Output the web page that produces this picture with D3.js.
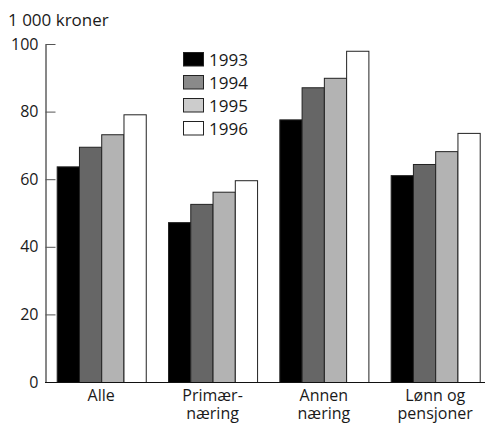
<!DOCTYPE html>
<html><head><meta charset="utf-8">
<script src="https://cdn.jsdelivr.net/npm/d3@7"></script>
<style>
body{margin:0;background:#fff;}
text{font-family:"Open Sans",sans-serif;fill:#1a1a1a;}
</style></head>
<body>
<svg id="c" width="486" height="423"></svg>
<script>
const categories = [["Alle"], ["Primær-", "næring"], ["Annen", "næring"], ["Lønn og", "pensjoner"]];
const years = ["1993", "1994", "1995", "1996"];
const v1993 = [63.8, 47.3, 77.7, 61.2];
const v1994 = [69.6, 52.7, 87.2, 64.5];
const v1995 = [73.3, 56.3, 90.0, 68.3];
const v1996 = [79.2, 59.7, 98.0, 73.7];
const yTicks = [0, 20, 40, 60, 80, 100];
const unitLabel = "1 000 kroner";

const series = [v1993, v1994, v1995, v1996];
const barColors = ["#000000", "#666666", "#b3b3b3", "#ffffff"];
const legendColors = ["#000000", "#8a8a8a", "#cccccc", "#ffffff"];

const svg = d3.select("#c");
const catKeys = categories.map(c => c.join(" "));

const x = d3.scaleBand().domain(catKeys).range([45, 491.4]).paddingInner(0.2).paddingOuter(0.105);
const xi = d3.scaleBand().domain(years).range([0, x.bandwidth()]);
const y = d3.scaleLinear().domain([0, 100]).range([382, 44]);

// bars
const g = svg.append("g");
catKeys.forEach((ck, ci) => {
  years.forEach((yr, si) => {
    const v = series[si][ci];
    g.append("rect")
      .attr("x", x(ck) + xi(yr) + 0.5)
      .attr("y", y(v) + 0.5)
      .attr("width", xi.bandwidth())
      .attr("height", y(0) - y(v))
      .attr("fill", barColors[si])
      .attr("stroke", "#222")
      .attr("stroke-width", 1);
  });
});

// y axis
const ya = svg.append("g").attr("transform", "translate(45.5,0)")
  .call(d3.axisLeft(y).tickValues(yTicks).tickSizeInner(-10).tickSizeOuter(0).tickPadding(7));
ya.select(".domain").attr("stroke", "#111");
ya.selectAll(".tick line").attr("stroke", "#555");
ya.selectAll("text").style("font-size", "16px").attr("fill", "#1a1a1a");

// x axis line
svg.append("line").attr("x1", 45).attr("x2", 485).attr("y1", y(0) + 0.5).attr("y2", y(0) + 0.5)
  .attr("stroke", "#111").attr("stroke-width", 1);

// x axis labels
const xa = svg.append("g").attr("transform", `translate(0,${y(0)})`)
  .call(d3.axisBottom(x).tickSize(0).tickFormat(() => ""));
xa.select(".domain").remove();
xa.selectAll(".tick").each(function(d, i) {
  const t = d3.select(this).select("text").text(null).attr("y", 0).attr("dy", null)
    .style("font-size", "16px").attr("text-anchor", "middle");
  categories[i].forEach((line, li) => {
    t.append("tspan").attr("x", 0).attr("y", 19 + li * 18).text(line);
  });
});

// unit label
svg.append("text").attr("x", 8).attr("y", 26).style("font-size", "17px").text(unitLabel);

// legend
const lg = svg.append("g");
years.forEach((yr, i) => {
  const yy = 52 + i * 23;
  lg.append("rect").attr("x", 183.5).attr("y", yy + 0.5).attr("width", 20).attr("height", 13.5)
    .attr("fill", legendColors[i]).attr("stroke", "#222");
  lg.append("text").attr("x", 209).attr("y", yy + 14).style("font-size", "17px").text(yr);
});
</script>
</body></html>
